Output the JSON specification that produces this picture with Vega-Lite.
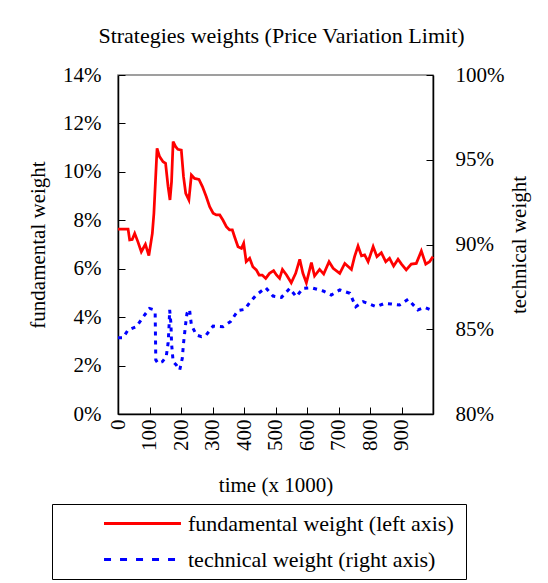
{
  "$schema": "https://vega.github.io/schema/vega-lite/v6.json",
  "autosize": "none",
  "width": 315,
  "height": 339,
  "padding": {"left": 118, "top": 75, "right": 115, "bottom": 169},
  "background": "white",
  "config": {
    "font": "Liberation Serif",
    "view": {"stroke": "#808080", "strokeWidth": 1.5},
    "axis": {"labelFont": "Liberation Serif", "titleFont": "Liberation Serif", "labelFontSize": 21, "titleFontSize": 21, "titleFontWeight": "normal", "labelColor": "black", "titleColor": "black", "domainColor": "black", "domainWidth": 1.5, "tickColor": "black", "tickWidth": 1, "grid": false}
  },
  "title": {"text": "Strategies weights (Price Variation Limit)", "font": "Liberation Serif", "fontSize": 22, "fontWeight": "normal", "color": "black", "offset": 16, "dx": 6},
  "datasets": {
    "fund": [
      {"time": 0, "weight": 0.0764, "series": "fundamental weight (left axis)"},
      {"time": 32, "weight": 0.0764, "series": "fundamental weight (left axis)"},
      {"time": 37, "weight": 0.0719, "series": "fundamental weight (left axis)"},
      {"time": 45, "weight": 0.0721, "series": "fundamental weight (left axis)"},
      {"time": 53, "weight": 0.0746, "series": "fundamental weight (left axis)"},
      {"time": 63, "weight": 0.0712, "series": "fundamental weight (left axis)"},
      {"time": 74, "weight": 0.0670, "series": "fundamental weight (left axis)"},
      {"time": 87, "weight": 0.0701, "series": "fundamental weight (left axis)"},
      {"time": 98, "weight": 0.0654, "series": "fundamental weight (left axis)"},
      {"time": 109, "weight": 0.0746, "series": "fundamental weight (left axis)"},
      {"time": 114, "weight": 0.0829, "series": "fundamental weight (left axis)"},
      {"time": 124, "weight": 0.1097, "series": "fundamental weight (left axis)"},
      {"time": 132, "weight": 0.1063, "series": "fundamental weight (left axis)"},
      {"time": 143, "weight": 0.1042, "series": "fundamental weight (left axis)"},
      {"time": 151, "weight": 0.1035, "series": "fundamental weight (left axis)"},
      {"time": 159, "weight": 0.0939, "series": "fundamental weight (left axis)"},
      {"time": 165, "weight": 0.0884, "series": "fundamental weight (left axis)"},
      {"time": 170, "weight": 0.0960, "series": "fundamental weight (left axis)"},
      {"time": 175, "weight": 0.1125, "series": "fundamental weight (left axis)"},
      {"time": 183, "weight": 0.1104, "series": "fundamental weight (left axis)"},
      {"time": 190, "weight": 0.1093, "series": "fundamental weight (left axis)"},
      {"time": 201, "weight": 0.1090, "series": "fundamental weight (left axis)"},
      {"time": 208, "weight": 0.0980, "series": "fundamental weight (left axis)"},
      {"time": 215, "weight": 0.0911, "series": "fundamental weight (left axis)"},
      {"time": 225, "weight": 0.0884, "series": "fundamental weight (left axis)"},
      {"time": 233, "weight": 0.0987, "series": "fundamental weight (left axis)"},
      {"time": 243, "weight": 0.0973, "series": "fundamental weight (left axis)"},
      {"time": 257, "weight": 0.0969, "series": "fundamental weight (left axis)"},
      {"time": 268, "weight": 0.0939, "series": "fundamental weight (left axis)"},
      {"time": 280, "weight": 0.0898, "series": "fundamental weight (left axis)"},
      {"time": 291, "weight": 0.0856, "series": "fundamental weight (left axis)"},
      {"time": 302, "weight": 0.0829, "series": "fundamental weight (left axis)"},
      {"time": 312, "weight": 0.0822, "series": "fundamental weight (left axis)"},
      {"time": 323, "weight": 0.0822, "series": "fundamental weight (left axis)"},
      {"time": 333, "weight": 0.0801, "series": "fundamental weight (left axis)"},
      {"time": 344, "weight": 0.0774, "series": "fundamental weight (left axis)"},
      {"time": 354, "weight": 0.0760, "series": "fundamental weight (left axis)"},
      {"time": 363, "weight": 0.0760, "series": "fundamental weight (left axis)"},
      {"time": 370, "weight": 0.0732, "series": "fundamental weight (left axis)"},
      {"time": 381, "weight": 0.0691, "series": "fundamental weight (left axis)"},
      {"time": 392, "weight": 0.0684, "series": "fundamental weight (left axis)"},
      {"time": 399, "weight": 0.0705, "series": "fundamental weight (left axis)"},
      {"time": 407, "weight": 0.0629, "series": "fundamental weight (left axis)"},
      {"time": 418, "weight": 0.0643, "series": "fundamental weight (left axis)"},
      {"time": 428, "weight": 0.0608, "series": "fundamental weight (left axis)"},
      {"time": 439, "weight": 0.0595, "series": "fundamental weight (left axis)"},
      {"time": 448, "weight": 0.0574, "series": "fundamental weight (left axis)"},
      {"time": 458, "weight": 0.0574, "series": "fundamental weight (left axis)"},
      {"time": 469, "weight": 0.0560, "series": "fundamental weight (left axis)"},
      {"time": 481, "weight": 0.0581, "series": "fundamental weight (left axis)"},
      {"time": 494, "weight": 0.0592, "series": "fundamental weight (left axis)"},
      {"time": 503, "weight": 0.0574, "series": "fundamental weight (left axis)"},
      {"time": 513, "weight": 0.0560, "series": "fundamental weight (left axis)"},
      {"time": 522, "weight": 0.0597, "series": "fundamental weight (left axis)"},
      {"time": 535, "weight": 0.0574, "series": "fundamental weight (left axis)"},
      {"time": 550, "weight": 0.0542, "series": "fundamental weight (left axis)"},
      {"time": 564, "weight": 0.0581, "series": "fundamental weight (left axis)"},
      {"time": 577, "weight": 0.0639, "series": "fundamental weight (left axis)"},
      {"time": 587, "weight": 0.0581, "series": "fundamental weight (left axis)"},
      {"time": 598, "weight": 0.0542, "series": "fundamental weight (left axis)"},
      {"time": 614, "weight": 0.0625, "series": "fundamental weight (left axis)"},
      {"time": 624, "weight": 0.0570, "series": "fundamental weight (left axis)"},
      {"time": 640, "weight": 0.0597, "series": "fundamental weight (left axis)"},
      {"time": 653, "weight": 0.0578, "series": "fundamental weight (left axis)"},
      {"time": 670, "weight": 0.0629, "series": "fundamental weight (left axis)"},
      {"time": 683, "weight": 0.0602, "series": "fundamental weight (left axis)"},
      {"time": 704, "weight": 0.0581, "series": "fundamental weight (left axis)"},
      {"time": 720, "weight": 0.0622, "series": "fundamental weight (left axis)"},
      {"time": 741, "weight": 0.0597, "series": "fundamental weight (left axis)"},
      {"time": 751, "weight": 0.0650, "series": "fundamental weight (left axis)"},
      {"time": 762, "weight": 0.0694, "series": "fundamental weight (left axis)"},
      {"time": 773, "weight": 0.0653, "series": "fundamental weight (left axis)"},
      {"time": 783, "weight": 0.0657, "series": "fundamental weight (left axis)"},
      {"time": 794, "weight": 0.0629, "series": "fundamental weight (left axis)"},
      {"time": 810, "weight": 0.0691, "series": "fundamental weight (left axis)"},
      {"time": 822, "weight": 0.0650, "series": "fundamental weight (left axis)"},
      {"time": 836, "weight": 0.0666, "series": "fundamental weight (left axis)"},
      {"time": 850, "weight": 0.0629, "series": "fundamental weight (left axis)"},
      {"time": 862, "weight": 0.0643, "series": "fundamental weight (left axis)"},
      {"time": 875, "weight": 0.0611, "series": "fundamental weight (left axis)"},
      {"time": 889, "weight": 0.0639, "series": "fundamental weight (left axis)"},
      {"time": 900, "weight": 0.0619, "series": "fundamental weight (left axis)"},
      {"time": 915, "weight": 0.0595, "series": "fundamental weight (left axis)"},
      {"time": 931, "weight": 0.0619, "series": "fundamental weight (left axis)"},
      {"time": 947, "weight": 0.0622, "series": "fundamental weight (left axis)"},
      {"time": 963, "weight": 0.0673, "series": "fundamental weight (left axis)"},
      {"time": 977, "weight": 0.0619, "series": "fundamental weight (left axis)"},
      {"time": 989, "weight": 0.0629, "series": "fundamental weight (left axis)"},
      {"time": 1000, "weight": 0.0650, "series": "fundamental weight (left axis)"}
    ],
    "tech": [
      {"time": 0, "weight": 0.8450, "series": "technical weight (right axis)"},
      {"time": 16, "weight": 0.8450, "series": "technical weight (right axis)"},
      {"time": 32, "weight": 0.8496, "series": "technical weight (right axis)"},
      {"time": 58, "weight": 0.8515, "series": "technical weight (right axis)"},
      {"time": 79, "weight": 0.8570, "series": "technical weight (right axis)"},
      {"time": 100, "weight": 0.8623, "series": "technical weight (right axis)"},
      {"time": 111, "weight": 0.8617, "series": "technical weight (right axis)"},
      {"time": 118, "weight": 0.8594, "series": "technical weight (right axis)"},
      {"time": 120, "weight": 0.8319, "series": "technical weight (right axis)"},
      {"time": 127, "weight": 0.8299, "series": "technical weight (right axis)"},
      {"time": 141, "weight": 0.8309, "series": "technical weight (right axis)"},
      {"time": 153, "weight": 0.8338, "series": "technical weight (right axis)"},
      {"time": 159, "weight": 0.8417, "series": "technical weight (right axis)"},
      {"time": 162, "weight": 0.8515, "series": "technical weight (right axis)"},
      {"time": 164, "weight": 0.8614, "series": "technical weight (right axis)"},
      {"time": 168, "weight": 0.8535, "series": "technical weight (right axis)"},
      {"time": 170, "weight": 0.8417, "series": "technical weight (right axis)"},
      {"time": 175, "weight": 0.8309, "series": "technical weight (right axis)"},
      {"time": 185, "weight": 0.8289, "series": "technical weight (right axis)"},
      {"time": 196, "weight": 0.8260, "series": "technical weight (right axis)"},
      {"time": 204, "weight": 0.8328, "series": "technical weight (right axis)"},
      {"time": 208, "weight": 0.8417, "series": "technical weight (right axis)"},
      {"time": 215, "weight": 0.8535, "series": "technical weight (right axis)"},
      {"time": 219, "weight": 0.8594, "series": "technical weight (right axis)"},
      {"time": 227, "weight": 0.8617, "series": "technical weight (right axis)"},
      {"time": 233, "weight": 0.8525, "series": "technical weight (right axis)"},
      {"time": 249, "weight": 0.8466, "series": "technical weight (right axis)"},
      {"time": 265, "weight": 0.8456, "series": "technical weight (right axis)"},
      {"time": 280, "weight": 0.8466, "series": "technical weight (right axis)"},
      {"time": 302, "weight": 0.8519, "series": "technical weight (right axis)"},
      {"time": 333, "weight": 0.8515, "series": "technical weight (right axis)"},
      {"time": 357, "weight": 0.8545, "series": "technical weight (right axis)"},
      {"time": 381, "weight": 0.8610, "series": "technical weight (right axis)"},
      {"time": 402, "weight": 0.8617, "series": "technical weight (right axis)"},
      {"time": 418, "weight": 0.8657, "series": "technical weight (right axis)"},
      {"time": 439, "weight": 0.8702, "series": "technical weight (right axis)"},
      {"time": 469, "weight": 0.8745, "series": "technical weight (right axis)"},
      {"time": 492, "weight": 0.8696, "series": "technical weight (right axis)"},
      {"time": 519, "weight": 0.8688, "series": "technical weight (right axis)"},
      {"time": 545, "weight": 0.8741, "series": "technical weight (right axis)"},
      {"time": 566, "weight": 0.8692, "series": "technical weight (right axis)"},
      {"time": 587, "weight": 0.8741, "series": "technical weight (right axis)"},
      {"time": 614, "weight": 0.8745, "series": "technical weight (right axis)"},
      {"time": 651, "weight": 0.8726, "series": "technical weight (right axis)"},
      {"time": 677, "weight": 0.8702, "series": "technical weight (right axis)"},
      {"time": 704, "weight": 0.8732, "series": "technical weight (right axis)"},
      {"time": 736, "weight": 0.8712, "series": "technical weight (right axis)"},
      {"time": 755, "weight": 0.8633, "series": "technical weight (right axis)"},
      {"time": 778, "weight": 0.8663, "series": "technical weight (right axis)"},
      {"time": 820, "weight": 0.8633, "series": "technical weight (right axis)"},
      {"time": 847, "weight": 0.8653, "series": "technical weight (right axis)"},
      {"time": 868, "weight": 0.8649, "series": "technical weight (right axis)"},
      {"time": 894, "weight": 0.8643, "series": "technical weight (right axis)"},
      {"time": 921, "weight": 0.8677, "series": "technical weight (right axis)"},
      {"time": 952, "weight": 0.8614, "series": "technical weight (right axis)"},
      {"time": 974, "weight": 0.8629, "series": "technical weight (right axis)"},
      {"time": 998, "weight": 0.8610, "series": "technical weight (right axis)"}
    ]
  },
  "encoding": {
    "x": {"field": "time", "type": "quantitative", "scale": {"domain": [0, 1000], "nice": false, "zero": false},
      "axis": {"title": "time (x 1000)", "values": [0, 100, 200, 300, 400, 500, 600, 700, 800, 900], "labelAngle": 270, "labelAlign": "right", "labelBaseline": "middle", "tickSize": -7, "labelPadding": 12, "titlePadding": 24}},
    "color": {"field": "series", "type": "nominal",
      "scale": {"domain": ["fundamental weight (left axis)", "technical weight (right axis)"], "range": ["#ff0000", "#0000ff"]},
      "legend": {"title": "\u00a0\u00a0\u00a0\u00a0\u00a0\u00a0\u00a0\u00a0", "titleOrient": "right", "titlePadding": 4, "titleFontSize": 22, "orient": "none", "legendX": -66, "legendY": 429, "direction": "vertical", "strokeColor": "black", "padding": 8, "symbolType": "M-4,0H4", "symbolSize": 370, "symbolStrokeWidth": 3, "symbolOffset": 71, "labelFont": "Liberation Serif", "labelFontSize": 22, "labelColor": "black", "labelOffset": 34, "rowPadding": 13, "labelLimit": 400,
        "encode": {"symbols": {"update": {"strokeDash": {"signal": "datum.value === 'technical weight (right axis)' ? [7, 9] : [1, 0]"}}}}}}
  },
  "layer": [
    {
      "data": {"name": "fund"},
      "mark": {"type": "line", "strokeWidth": 2.75},
      "encoding": {
        "y": {"field": "weight", "type": "quantitative", "scale": {"domain": [0, 0.14], "nice": false},
          "axis": {"title": "fundamental weight", "orient": "left", "format": ".0%", "values": [0, 0.02, 0.04, 0.06, 0.08, 0.1, 0.12, 0.14], "tickSize": -7, "labelPadding": 24, "titlePadding": 14}}
      }
    },
    {
      "data": {"name": "tech"},
      "mark": {"type": "line", "strokeWidth": 3, "strokeDash": [4, 5]},
      "encoding": {
        "y": {"field": "weight", "type": "quantitative", "scale": {"domain": [0.8, 1.0], "nice": false, "zero": false},
          "axis": {"title": "technical weight", "orient": "right", "format": ".0%", "values": [0.8, 0.85, 0.9, 0.95, 1.0], "tickSize": -7, "labelPadding": 29, "titlePadding": 26, "titleAngle": 270}}
      }
    }
  ],
  "resolve": {"scale": {"y": "independent"}, "axis": {"y": "independent"}}
}
